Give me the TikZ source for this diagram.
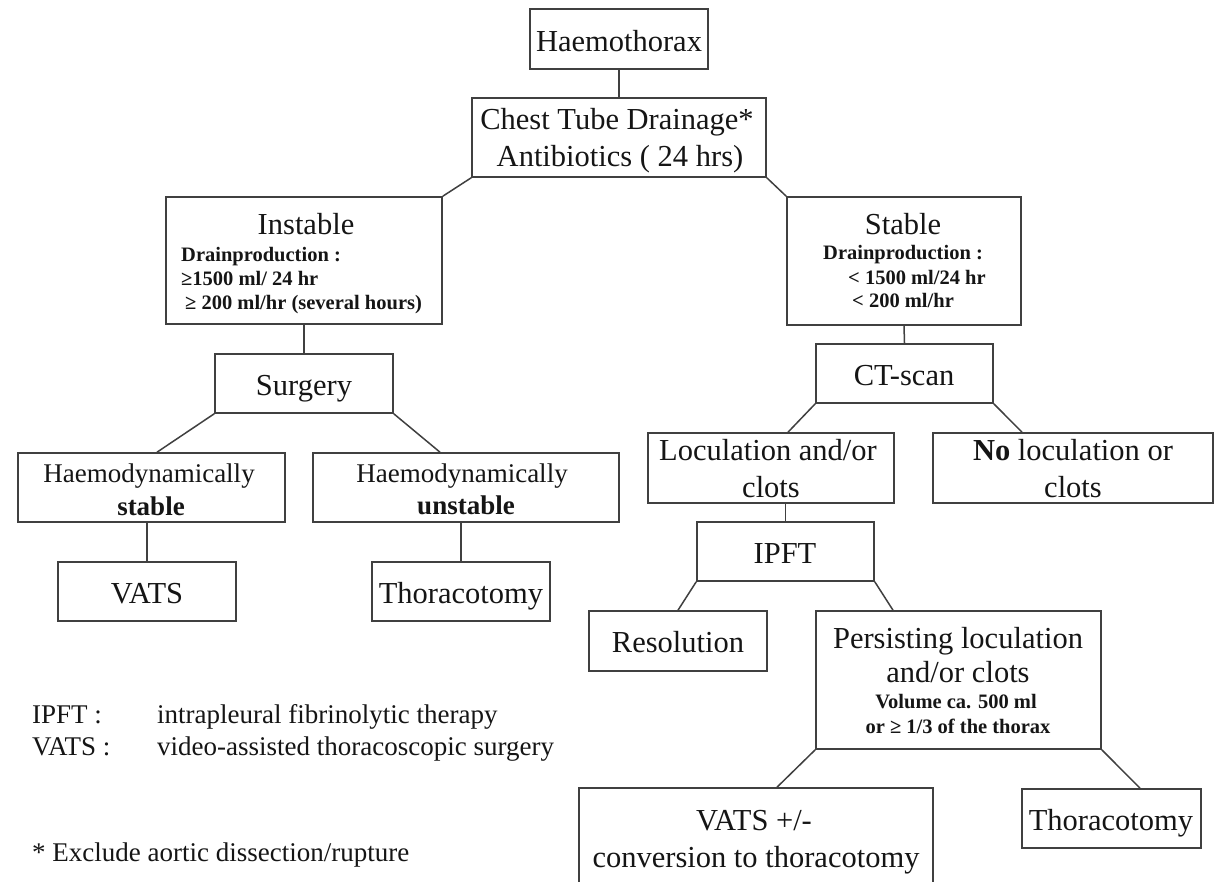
\documentclass[tikz,border=0pt]{standalone}
\usepackage{fontspec}
\setmainfont{Liberation Serif}
\usetikzlibrary{calc}
\definecolor{linec}{HTML}{404040}
\definecolor{txtc}{HTML}{151515}
\tikzset{
  box/.style={draw=linec, line width=1.6pt, rectangle, inner sep=0pt},
  conn/.style={draw=linec, line width=1.5pt},
  big/.style={inner sep=0pt, text=txtc, font=\fontsize{30.5}{36}\selectfont},
  mid/.style={inner sep=0pt, text=txtc, font=\fontsize{27}{32}\selectfont},
  midb/.style={inner sep=0pt, text=txtc, font=\fontsize{27}{32}\selectfont\bfseries},
  small/.style={inner sep=0pt, text=txtc, font=\fontsize{20.5}{24}\selectfont\bfseries},
  leg/.style={inner sep=0pt, text=txtc, font=\fontsize{27}{32}\selectfont},
}
\begin{document}
\begin{tikzpicture}[x=1pt, y=-1pt]
\clip (0,0) rectangle (1217,882);
\fill[white] (0,0) rectangle (1217,882);
% boxes
\node[box, minimum width=178pt, minimum height=60pt] (haem) at (619,39) {};
\node[box, minimum width=294pt, minimum height=79pt] (chest) at (619,137.5) {};
\node[box, minimum width=276pt, minimum height=127pt] (instable) at (304,260.5) {};
\node[box, minimum width=234pt, minimum height=128pt] (stable) at (904,261) {};
\node[box, minimum width=178pt, minimum height=59pt] (surgery) at (304,383.5) {};
\node[box, minimum width=267pt, minimum height=69pt] (hs) at (151.5,487.5) {};
\node[box, minimum width=306pt, minimum height=69pt] (hu) at (466,487.5) {};
\node[box, minimum width=178pt, minimum height=59pt] (vats) at (147,591.5) {};
\node[box, minimum width=178pt, minimum height=59pt] (thorl) at (461,591.5) {};
\node[box, minimum width=177pt, minimum height=59pt] (ct) at (904.5,373.5) {};
\node[box, minimum width=246pt, minimum height=70pt] (loc) at (771,468) {};
\node[box, minimum width=280pt, minimum height=70pt] (noloc) at (1073,468) {};
\node[box, minimum width=177pt, minimum height=59pt] (ipft) at (785.5,551.5) {};
\node[box, minimum width=178pt, minimum height=60pt] (res) at (678,641) {};
\node[box, minimum width=285pt, minimum height=138pt] (pers) at (958.5,680) {};
\node[box, minimum width=354pt, minimum height=112pt] (vatsb) at (756,844) {};
\node[box, minimum width=179pt, minimum height=59pt] (thorr) at (1111.5,818.5) {};
% texts
\node[big, anchor=base] (t-haem) at (619,52) {Haemothorax};
\node[big, anchor=base] (t-chest1) at (617,130) {Chest Tube Drainage*};
\node[big, anchor=base] (t-chest2) at (620,167) {Antibiotics ( 24 hrs)};
\node[big, anchor=base] (t-inst) at (306,235) {Instable};
\node[small, anchor=base west] (t-inst1) at (181,262) {Drainproduction :};
\node[small, anchor=base west] (t-inst2) at (181,286) {≥1500 ml/ 24 hr};
\node[small, anchor=base west] (t-inst3) at (185,309) {≥ 200 ml/hr (several hours)};
\node[big, anchor=base] (t-stab) at (903,235) {Stable};
\node[small, anchor=base west] (t-stab1) at (823,260) {Drainproduction :};
\node[small, anchor=base west] (t-stab2) at (848,285) {< 1500 ml/24 hr};
\node[small, anchor=base west] (t-stab3) at (852,308) {< 200 ml/hr};
\node[big, anchor=base] (t-surg) at (304,395) {Surgery};
\node[mid, anchor=base] (t-hs1) at (149,482) {Haemodynamically};
\node[midb, anchor=base] (t-hs2) at (151,515) {stable};
\node[mid, anchor=base] (t-hu1) at (462,482) {Haemodynamically};
\node[midb, anchor=base] (t-hu2) at (466,514) {unstable};
\node[big, anchor=base] (t-vats) at (147,603) {VATS};
\node[big, anchor=base] (t-thorl) at (461,603) {Thoracotomy};
\node[big, anchor=base] (t-ct) at (904,385) {CT-scan};
\node[big, anchor=base] (t-loc1) at (768,460) {Loculation and/or};
\node[big, anchor=base] (t-loc2) at (771,497) {clots};
\node[big, anchor=base] (t-noloc1) at (1073,460) {\textbf{No} loculation or};
\node[big, anchor=base] (t-noloc2) at (1073,497) {clots};
\node[big, anchor=base] (t-ipft) at (785,563) {IPFT};
\node[big, anchor=base] (t-res) at (678,652) {Resolution};
\node[big, anchor=base] (t-pers1) at (958,648) {Persisting loculation};
\node[big, anchor=base] (t-pers2) at (958,682) {and/or clots};
\node[small, anchor=base] (t-pers3) at (956,708) {Volume ca. 500 ml};
\node[small, anchor=base] (t-pers4) at (958,733) {or ≥ 1/3 of the thorax};
\node[big, anchor=base] (t-vb1) at (754,830) {VATS +/-};
\node[big, anchor=base] (t-vb2) at (756,867) {conversion to thoracotomy};
\node[big, anchor=base] (t-thorr) at (1111,830) {Thoracotomy};
% legend
\node[leg, anchor=base west] (l-ipft) at (32,723) {IPFT :};
\node[leg, anchor=base west] (l-ipftd) at (157,723) {intrapleural fibrinolytic therapy};
\node[leg, anchor=base west] (l-vats) at (32,755) {VATS :};
\node[leg, anchor=base west] (l-vatsd) at (157,755) {video-assisted thoracoscopic surgery};
\node[leg, anchor=base west] (l-excl) at (32,861) {* Exclude aortic dissection/rupture};
% connectors
\draw[conn] (haem.south) -- (chest.north);
\draw[conn] (chest.south west) -- (instable.north east);
\draw[conn] (chest.south east) -- (stable.north west);
\draw[conn] (instable.south) -- (surgery.north);
\draw[conn] (stable.south) -- (ct.north);
\draw[conn] (surgery.south west) -- ([xshift=5.5pt]hs.north);
\draw[conn] (surgery.south east) -- ([xshift=-26pt]hu.north);
\draw[conn] (vats.north |- hs.south) -- (vats.north);
\draw[conn] (thorl.north |- hu.south) -- (thorl.north);
\draw[conn] (ct.south west) -- ([xshift=17pt]loc.north);
\draw[conn] (ct.south east) -- ([xshift=-51pt]noloc.north);
\draw[conn] (ipft.north |- loc.south) -- (ipft.north);
\draw[conn] (ipft.south west) -- (res.north);
\draw[conn] (ipft.south east) -- ([xshift=-65.5pt]pers.north);
\draw[conn] (pers.south west) -- ([xshift=21pt]vatsb.north);
\draw[conn] (pers.south east) -- ([xshift=28.5pt]thorr.north);
\end{tikzpicture}
\end{document}
